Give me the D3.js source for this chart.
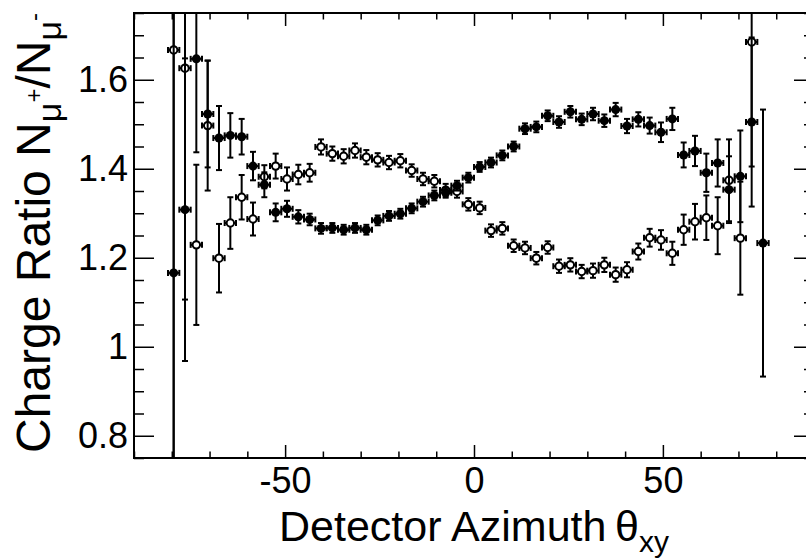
<!DOCTYPE html>
<html>
<head>
<meta charset="utf-8">
<script src="https://cdn.jsdelivr.net/npm/d3@7"></script>
<style>
  body { margin: 0; background: #fff; }
  svg { display: block; }
  text { font-family: "Liberation Sans", Arial, Helvetica, sans-serif; fill: #000; }
</style>
</head>
<body>
<svg id="chart" width="806" height="559"></svg>
<script>
// Azimuth bin centres (degrees) and the half width of each bin
const thetaCenters = [-79.5, -76.5, -73.5, -70.5, -67.5, -64.5, -61.5, -58.5, -55.5, -52.5,
  -49.5, -46.5, -43.5, -40.5, -37.5, -34.5, -31.5, -28.5, -25.5, -22.5,
  -19.5, -16.5, -13.5, -10.5, -7.5, -4.5, -1.5, 1.5, 4.5, 7.5,
  10.5, 13.5, 16.5, 19.5, 22.5, 25.5, 28.5, 31.5, 34.5, 37.5,
  40.5, 43.5, 46.5, 49.5, 52.5, 55.5, 58.5, 61.5, 64.5, 67.5,
  70.5, 73.5, 76.5];
const thetaHalfWidth = 1.5;

// Filled markers: charge ratio and its uncertainty per bin
const filledRatio = [1.166, 1.308, 1.647, 1.523, 1.469, 1.475, 1.472, 1.406, 1.364, 1.302,
  1.310, 1.292, 1.286, 1.266, 1.267, 1.263, 1.267, 1.263, 1.284, 1.294,
  1.299, 1.311, 1.326, 1.340, 1.346, 1.362, 1.380, 1.404, 1.414, 1.430,
  1.450, 1.490, 1.494, 1.519, 1.505, 1.528, 1.511, 1.523, 1.508, 1.533,
  1.496, 1.511, 1.497, 1.482, 1.512, 1.431, 1.440, 1.391, 1.413, 1.353,
  1.383, 1.505, 1.233];
const filledError = [0.70, 0.34, 0.21, 0.12, 0.072, 0.05, 0.04, 0.032, 0.028, 0.02,
  0.018, 0.015, 0.013, 0.012, 0.011, 0.011, 0.011, 0.011, 0.011, 0.011,
  0.011, 0.011, 0.011, 0.011, 0.011, 0.011, 0.011, 0.011, 0.011, 0.011,
  0.011, 0.012, 0.012, 0.012, 0.013, 0.013, 0.013, 0.014, 0.014, 0.015,
  0.016, 0.016, 0.018, 0.022, 0.025, 0.028, 0.034, 0.043, 0.053, 0.075,
  0.103, 0.19, 0.30];

// Open markers: charge ratio and its uncertainty per bin (no entry in the last bin)
const openRatio = [1.667, 1.626, 1.229, 1.497, 1.199, 1.278, 1.336, 1.287, 1.382, 1.406,
  1.377, 1.387, 1.391, 1.449, 1.434, 1.428, 1.441, 1.426, 1.420, 1.414,
  1.418, 1.396, 1.377, 1.372, 1.352, 1.349, 1.320, 1.312, 1.261, 1.266,
  1.227, 1.222, 1.199, 1.223, 1.181, 1.184, 1.169, 1.171, 1.184, 1.162,
  1.173, 1.214, 1.245, 1.240, 1.210, 1.263, 1.281, 1.290, 1.272, 1.374,
  1.244, 1.685, null];
const openError = [0.95, 0.52, 0.18, 0.146, 0.077, 0.058, 0.05, 0.037, 0.026, 0.028,
  0.026, 0.022, 0.02, 0.017, 0.016, 0.016, 0.016, 0.016, 0.015, 0.015,
  0.015, 0.014, 0.014, 0.014, 0.014, 0.014, 0.014, 0.014, 0.014, 0.014,
  0.014, 0.014, 0.014, 0.014, 0.015, 0.015, 0.015, 0.016, 0.016, 0.016,
  0.017, 0.018, 0.02, 0.022, 0.026, 0.034, 0.04, 0.05, 0.064, 0.092,
  0.127, 0.28, null];

// Axis ranges and tick values
const xDomain = [-90, 90];
const yDomain = [0.75, 1.75];
const xMajorTicks = [-50, 0, 50];
const xMinorTicks = [-90, -80, -70, -60, -40, -30, -20, -10, 10, 20, 30, 40, 60, 70, 80, 90];
const yMajorTicks = [0.8, 1.0, 1.2, 1.4, 1.6];
const yMinorTicks = [0.75, 0.85, 0.9, 0.95, 1.05, 1.1, 1.15, 1.25, 1.3, 1.35, 1.45, 1.5, 1.55, 1.65, 1.7, 1.75];

const frame = { left: 134, right: 814, top: 13, bottom: 458 };
const svg = d3.select("#chart");

const x = d3.scaleLinear().domain(xDomain).range([frame.left, frame.right]);
const y = d3.scaleLinear().domain(yDomain).range([frame.bottom, frame.top]);
const fmt = d => String(+d.toFixed(2));

svg.append("defs").append("clipPath").attr("id", "plot-clip")
  .append("rect")
  .attr("x", frame.left).attr("y", frame.top)
  .attr("width", frame.right - frame.left).attr("height", frame.bottom - frame.top);

// ---- axes: ticks point into the frame on all four sides ----
function styleAxis(g) {
  g.select(".domain").remove();
  g.selectAll(".tick line").attr("stroke", "#000").attr("stroke-width", 1.5);
}
const xMajLen = 13, xMinLen = 6.5, yMajLen = 20, yMinLen = 10;

svg.append("g").attr("transform", `translate(0,${frame.bottom})`)
  .call(d3.axisBottom(x).tickValues(xMajorTicks).tickSize(-xMajLen).tickPadding(9).tickFormat(fmt))
  .call(styleAxis)
  .call(g => g.selectAll("text").attr("font-size", 36).attr("font-family", null));
svg.append("g").attr("transform", `translate(0,${frame.bottom})`)
  .call(d3.axisBottom(x).tickValues(xMinorTicks).tickSize(-xMinLen).tickFormat(""))
  .call(styleAxis);
svg.append("g").attr("transform", `translate(0,${frame.top})`)
  .call(d3.axisTop(x).tickValues(xMajorTicks).tickSize(-xMajLen).tickFormat(""))
  .call(styleAxis);
svg.append("g").attr("transform", `translate(0,${frame.top})`)
  .call(d3.axisTop(x).tickValues(xMinorTicks).tickSize(-xMinLen).tickFormat(""))
  .call(styleAxis);

svg.append("g").attr("transform", `translate(${frame.left},0)`)
  .call(d3.axisLeft(y).tickValues(yMajorTicks).tickSize(-yMajLen).tickPadding(6).tickFormat(fmt))
  .call(styleAxis)
  .call(g => g.selectAll("text").attr("font-size", 36).attr("font-family", null));
svg.append("g").attr("transform", `translate(${frame.left},0)`)
  .call(d3.axisLeft(y).tickValues(yMinorTicks).tickSize(-yMinLen).tickFormat(""))
  .call(styleAxis);
svg.append("g").attr("transform", `translate(${frame.right},0)`)
  .call(d3.axisRight(y).tickValues(yMajorTicks).tickSize(-yMajLen).tickFormat(""))
  .call(styleAxis);
svg.append("g").attr("transform", `translate(${frame.right},0)`)
  .call(d3.axisRight(y).tickValues(yMinorTicks).tickSize(-yMinLen).tickFormat(""))
  .call(styleAxis);

// frame
svg.append("rect")
  .attr("x", frame.left).attr("y", frame.top)
  .attr("width", frame.right - frame.left).attr("height", frame.bottom - frame.top)
  .attr("fill", "none").attr("stroke", "#000").attr("stroke-width", 2);

// ---- data: error bars with end caps, then markers ----
function drawSeries(values, errors, filled) {
  const pts = thetaCenters.map((t, i) => ({ t, v: values[i], e: errors[i] }))
    .filter(d => d.v != null);
  const g = svg.append("g").attr("clip-path", "url(#plot-clip)");
  const cap = 3;
  const lines = [];
  pts.forEach(d => {
    const cx = x(d.t), cy = y(d.v);
    const yLo = y(d.v - d.e), yHi = y(d.v + d.e);
    const xLo = x(d.t - thetaHalfWidth), xHi = x(d.t + thetaHalfWidth);
    lines.push([cx, yLo, cx, yHi]);
    lines.push([cx - cap, yLo, cx + cap, yLo]);
    lines.push([cx - cap, yHi, cx + cap, yHi]);
    lines.push([xLo, cy, xHi, cy]);
    lines.push([xLo, cy - cap, xLo, cy + cap]);
    lines.push([xHi, cy - cap, xHi, cy + cap]);
  });
  g.selectAll("line").data(lines).join("line")
    .attr("x1", d => d[0]).attr("y1", d => d[1])
    .attr("x2", d => d[2]).attr("y2", d => d[3])
    .attr("stroke", "#000").attr("stroke-width", 2);
  g.selectAll("circle").data(pts).join("circle")
    .attr("cx", d => x(d.t)).attr("cy", d => y(d.v))
    .attr("r", filled ? 4.5 : 3.7)
    .attr("fill", filled ? "#000" : "#fff")
    .attr("stroke", "#000").attr("stroke-width", filled ? 0 : 2);
}
drawSeries(openRatio, openError, false);
drawSeries(filledRatio, filledError, true);

// ---- axis titles ----
svg.append("text")
  .attr("x", x(0)).attr("y", 541)
  .attr("text-anchor", "middle").attr("font-size", 43)
  .call(t => {
    t.append("tspan").text("Detector Azimuth\u2009\u03B8");
    t.append("tspan").attr("font-size", 30).attr("dy", 11).text("xy");
  });

svg.append("text")
  .attr("transform", `translate(50,${frame.top}) rotate(-90)`)
  .attr("text-anchor", "end").attr("font-size", 48)
  .call(t => {
    t.append("tspan").text("Charge Ratio N");
    t.append("tspan").attr("font-size", 34).attr("dy", 11).text("\u03BC");
    t.append("tspan").attr("font-size", 24).attr("dy", -19).text("+");
    t.append("tspan").attr("font-size", 48).attr("dy", 8).text("/N");
    t.append("tspan").attr("font-size", 34).attr("dy", 11).text("\u03BC");
    t.append("tspan").attr("font-size", 24).attr("dy", -19).text("-");
  });
</script>
</body>
</html>
